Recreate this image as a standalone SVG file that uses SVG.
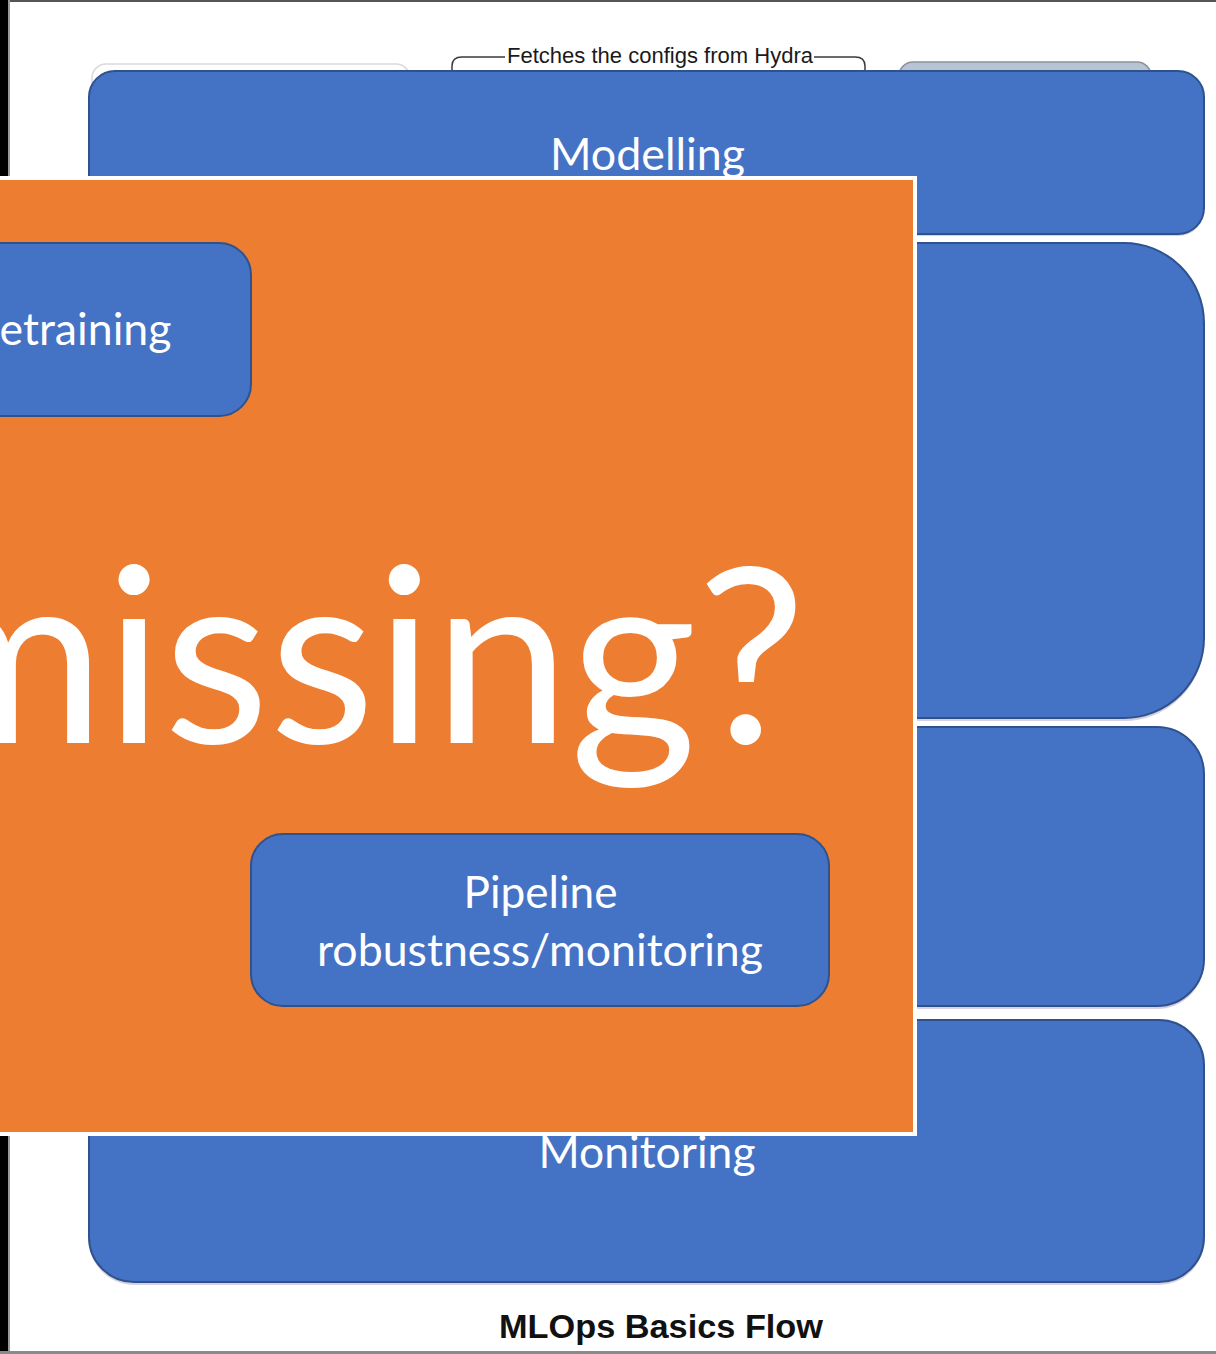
<svg xmlns="http://www.w3.org/2000/svg" width="1216" height="1354" viewBox="0 0 1216 1354">
  <style>
    .box { fill: #4472C4; stroke: #2F528F; stroke-width: 2; }
    .shadow { fill: #d6d0e0; }
    .lbl { font-family: Lato, "Open Sans", sans-serif; fill: #ffffff; text-anchor: middle; }
    .edge { fill: none; stroke: #3a3a3a; stroke-width: 1.5; }
    .note { font-family: "Liberation Sans", Arial, sans-serif; font-size: 22px; fill: #1a1a1a; }
    .title { font-family: "Liberation Sans", Arial, sans-serif; font-size: 34px; font-weight: bold; fill: #111111; text-anchor: middle; }
  </style>

  <!-- page -->
  <rect x="0" y="0" width="1216" height="1354" fill="#ffffff"/>
  <rect x="0" y="0" width="1216" height="2" fill="#555555"/>
  <rect x="0" y="0" width="8" height="1354" fill="#000000"/>
  <rect x="8" y="0" width="2" height="1354" fill="#9a9a9a"/>
  <rect x="0" y="1351" width="1216" height="3" fill="#8a8a8a"/>

  <!-- shapes partly hidden behind the stage boxes -->
  <g id="backdrop">
    <rect x="92" y="64" width="318" height="60" rx="14" fill="#ffffff" stroke="#d9d9d9" stroke-width="1.5"/>
    <rect x="899" y="62" width="252" height="60" rx="14" fill="#b7c4d4" stroke="#8c929c" stroke-width="1.5"/>
  </g>

  <!-- connectors -->
  <g id="connectors">
    <path class="edge" d="M452 72 L452 66 Q452 57 462 57 L505 57"/>
    <path class="edge" d="M814 57 L855 57 Q865 57 865 66 L865 72"/>
    <text class="note" x="507" y="63" textLength="306" lengthAdjust="spacingAndGlyphs">Fetches the configs from Hydra</text>
  </g>

  <!-- stage boxes -->
  <g id="modelling">
    <rect class="shadow" x="89" y="73" width="1115" height="163" rx="26"/>
    <rect class="box" x="89" y="71" width="1115" height="163" rx="26"/>
    <text class="lbl" x="647.5" y="170" font-size="44" textLength="195" lengthAdjust="spacingAndGlyphs">Modelling</text>
  </g>

  <g id="stage-2">
    <rect class="shadow" x="89" y="246" width="1115" height="475" rx="80"/>
    <rect class="box" x="89" y="243" width="1115" height="475" rx="80"/>
  </g>

  <g id="stage-3">
    <rect class="shadow" x="89" y="730" width="1115" height="279" rx="47"/>
    <rect class="box" x="89" y="727" width="1115" height="279" rx="47"/>
  </g>

  <g id="monitoring">
    <rect class="shadow" x="89" y="1023" width="1115" height="262" rx="45"/>
    <rect class="box" x="89" y="1020" width="1115" height="262" rx="45"/>
    <text class="lbl" x="647" y="1168" font-size="44" textLength="217" lengthAdjust="spacingAndGlyphs">Monitoring</text>
  </g>

  <!-- orange overlay panel -->
  <g id="overlay">
    <rect x="-12" y="178" width="927" height="956" fill="#ED7D31" stroke="#ffffff" stroke-width="4"/>

    <g id="retraining">
      <rect class="box" x="-40" y="243" width="291" height="173" rx="32"/>
      <text class="lbl" x="85.5" y="345" font-size="44" textLength="172" lengthAdjust="spacingAndGlyphs">etraining</text>
    </g>

    <g id="pipeline">
      <rect class="box" x="251" y="834" width="578" height="172" rx="32"/>
      <text class="lbl" x="540.5" y="908" font-size="44" textLength="154" lengthAdjust="spacingAndGlyphs">Pipeline</text>
      <text class="lbl" x="540" y="966" font-size="44" textLength="446" lengthAdjust="spacingAndGlyphs">robustness/monitoring</text>
    </g>

    <text id="question" x="-96" y="743" font-family="Lato, 'Open Sans', sans-serif" font-size="244" fill="#ffffff" textLength="902" lengthAdjust="spacingAndGlyphs">missing?</text>
  </g>

  <text class="title" x="661" y="1338" textLength="324" lengthAdjust="spacingAndGlyphs">MLOps Basics Flow</text>
</svg>
